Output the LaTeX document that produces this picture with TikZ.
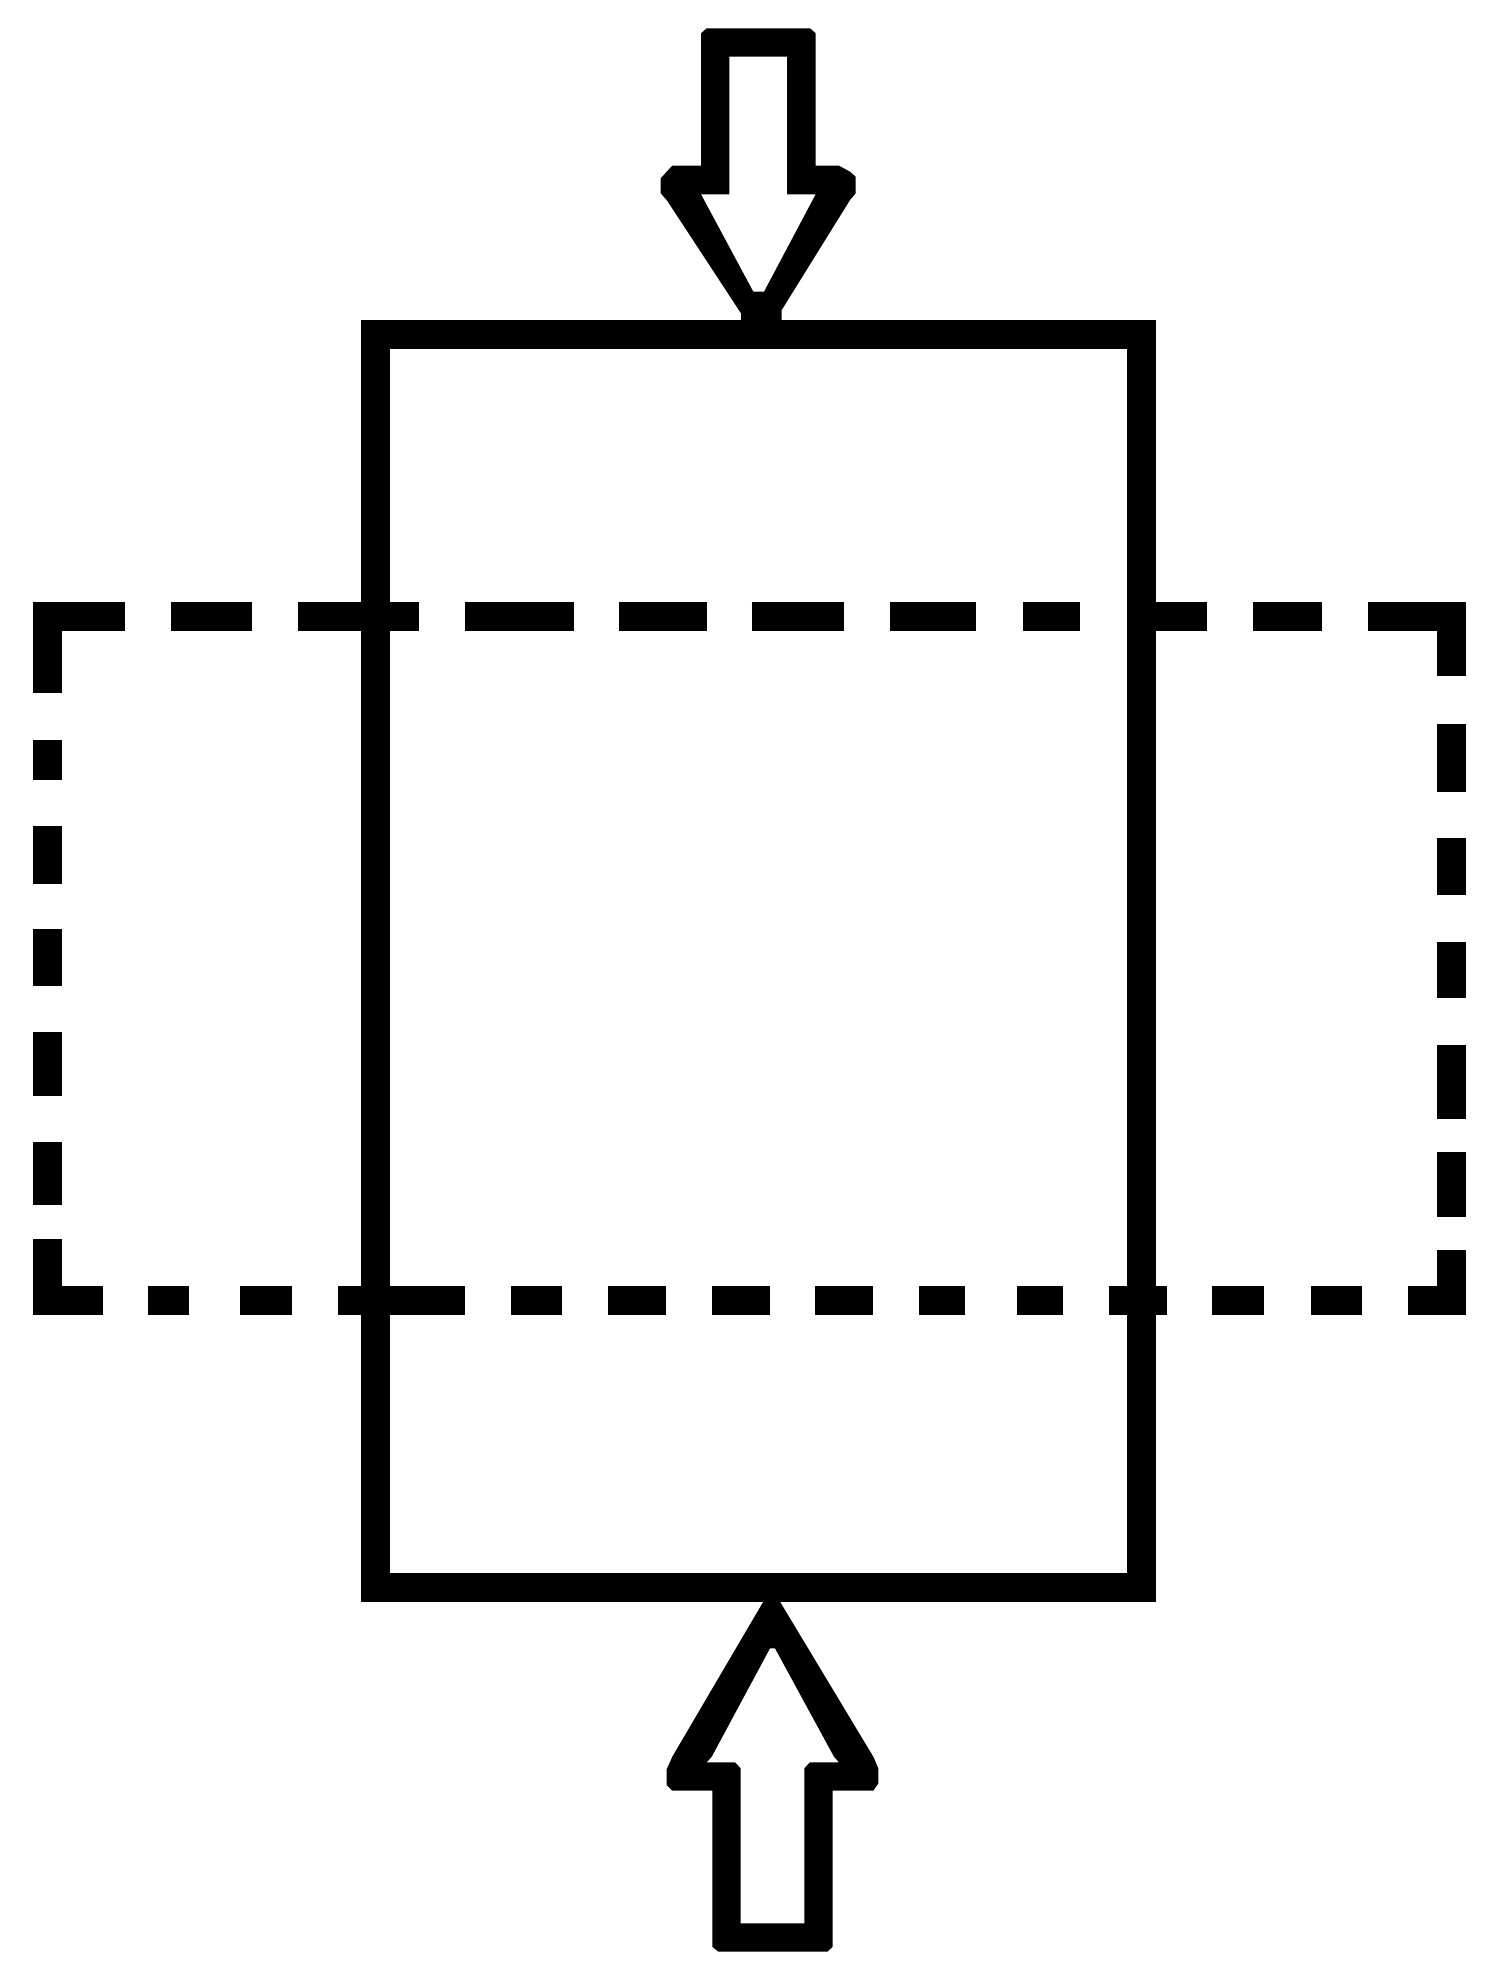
\documentclass[tikz,border=0pt]{standalone}

\begin{document}
\begin{tikzpicture}[x = 0.5pt, y = -0.5pt, % one unit per pixel, y runs down
                line width = 14.5pt % heavy strokes, butt ends
            ]

            \useasboundingbox (0,0) rectangle (1499,1971);

            % the body
            \coordinate (tl) at (375.5,334); \coordinate (br) at (1141,1587);
            \draw (tl) rectangle (br);

            % dashed outline, dash by dash
            \foreach \a/\b in {33/125, 171/252, 298/419, 465/574, 619/707,
            751.5/844, 890/976, 1023/1080, 1127/1207, 1253/1322, 1368/1466}
            \draw (\a,616.5) -- (\b,616.5);
            \foreach \a/\b in {33/103, 148/189, 240/292, 338/465, 511/562,
            608/666, 712/770, 815/873, 919/965, 1017/1063, 1109/1167,
            1212/1264, 1311/1362, 1408/1466}
            \draw (\a,1300) -- (\b,1300);
            \foreach \a/\b in {602/693, 740/780, 826/883.5, 929/986,
            1032/1096, 1142/1205, 1239/1314}
            \draw (47.5,\a) -- (47.5,\b);
            \foreach \a/\b in {602/676, 724/792, 838/895, 942/998,
            1044.5/1119, 1152/1217, 1250/1314}
            \draw (1451.5,\a) -- (1451.5,\b);

            % load arrows: outline and hollow
            \fill[even odd rule] (706.7,28.3) -- (810,28.3) -- (815.7,33.3) --
            (815.7,165.7) -- (839,165.7) -- (850,171.7) -- (855.7,176.7) --
            (855.7,193.3) -- (850,200) -- (781.7,310) -- (781.7,320) --
            (741,320) -- (741,313.3) -- (666.7,200) -- (660.7,193.3) --
            (660.7,178.3) -- (666.7,171.7) -- (672.3,165.7) -- (701,165.7) --
            (701,33.3) -- cycle
            (729.3,56.7) -- (787,56.7) -- (787,194.3) -- (815.7,194.3) --
            (764,291.7) -- (753.3,291.7) -- (701,194.3) -- (729.3,194.3) --
            cycle;
            \fill[even odd rule] (763.3,1601.7) -- (780,1601.7) --
            (873.3,1756.7) -- (878.3,1768.3) -- (878.3,1783.3) --
            (873.3,1790.7) -- (832.7,1790.7) -- (832.7,1946.7) --
            (827.3,1951.7) -- (718.3,1951.7) -- (712.3,1946.7) --
            (712.3,1790.7) -- (672.3,1790.7) -- (666.7,1785) --
            (666.7,1769.3) -- (672.3,1756.7) -- cycle
            (770,1648.3) -- (775,1648.3) -- (834,1756.7) -- (839,1762.3) --
            (810,1762.3) -- (804.3,1768.3) -- (804.3,1923.3) --
            (740.7,1923.3) -- (740.7,1768.3) -- (735,1762.3) --
            (706.7,1762.3) -- (711.7,1756.7) -- cycle;
        \end{tikzpicture}
\end{document}
